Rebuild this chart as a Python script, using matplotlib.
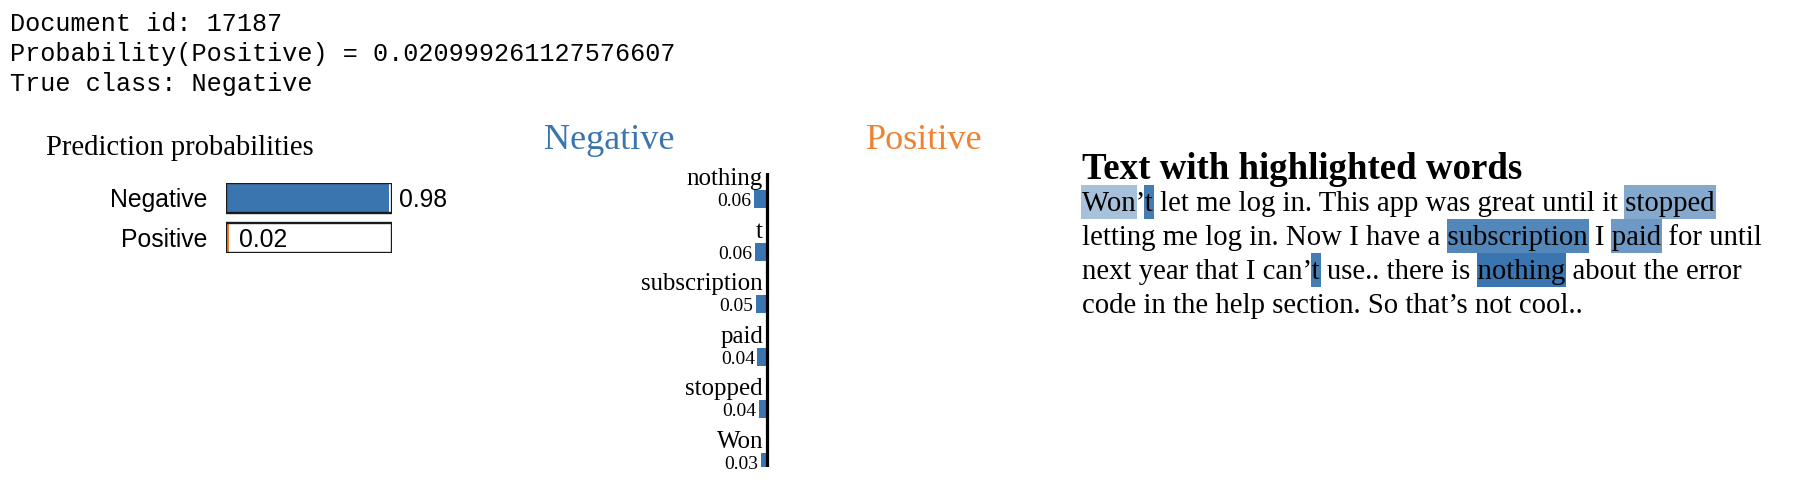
import re
import matplotlib
matplotlib.use("Agg")
import matplotlib.pyplot as plt
from matplotlib.patches import Rectangle
from matplotlib.font_manager import FontProperties

# ---------------- data ----------------
doc_id = 17187
prob_positive = 0.020999261127576607
true_class = "Negative"

class_names = ["Negative", "Positive"]
class_probs = [0.98, 0.02]

feature_words = ["nothing", "t", "subscription", "paid", "stopped", "Won"]
feature_weights = [0.061, 0.058, 0.053, 0.045, 0.038, 0.027]

text_lines = [
    "Won\u2019t let me log in. This app was great until it stopped",
    "letting me log in. Now I have a subscription I paid for until",
    "next year that I can\u2019t use.. there is nothing about the error",
    "code in the help section. So that\u2019s not cool..",
]

# ---------------- style ----------------
BLUE = "#3b75af"
ORANGE = "#ef8131"
W, H = 1812, 492
SERIF = "Liberation Serif"
SANS = "Liberation Sans"
MONO = "Liberation Mono"

fig = plt.figure(figsize=(W / 100, H / 100), dpi=100)


def fx(x):
    return x / W


def fy(y):
    return 1 - y / H


# overlay axes in pixel coordinates (for text panel / header)
ov = fig.add_axes([0, 0, 1, 1])
ov.set_xlim(0, W)
ov.set_ylim(H, 0)
ov.axis("off")

# ---------------- header ----------------
header = [f"Document id: {doc_id}",
          f"Probability(Positive) = {prob_positive}",
          f"True class: {true_class}"]
for i, s in enumerate(header):
    ov.text(10, 31 + 30 * i, s, family=MONO, size=18.05, va="baseline", ha="left")

# ---------------- prediction probabilities ----------------
ov.text(46, 155, "Prediction probabilities", family=SERIF, size=20.6,
        va="baseline", ha="left")

px0, px1, py0, py1 = 226, 392, 183, 253
axp = fig.add_axes([fx(px0), fy(py1), (px1 - px0) / W, (py1 - py0) / H])
ypos = list(range(len(class_names)))
bar_colors = [BLUE, ORANGE]
axp.barh(ypos, class_probs, height=0.76, color=bar_colors, edgecolor="none")
axp.barh(ypos, [1.0] * len(ypos), height=0.76, facecolor="none",
         edgecolor="#1a1a1a", linewidth=1.7)
axp.set_xlim(0, 1)
axp.set_ylim(1.39, -0.38)
axp.axis("off")
for i, (name, p) in enumerate(zip(class_names, class_probs)):
    axp.text(-0.114, i + 0.23, name, ha="right", va="baseline",
             family=SANS, size=17.8, clip_on=False)
    axp.text(p + 0.06, i + 0.23, f"{p:.2f}", ha="left", va="baseline",
             family=SANS, size=17.8, clip_on=False)

# ---------------- feature weights ----------------
axis_x = 767
scale = 215  # px per unit
fy0, fy1 = 173, 467
row_pitch = 52.5
row0 = 199
axf = fig.add_axes([fx(axis_x - scale), fy(fy1), 2 * scale / W, (fy1 - fy0) / H])
axf.set_xlim(-1, 1)
axf.set_ylim((fy1 - row0) / row_pitch, (fy0 - row0) / row_pitch)
rows = list(range(len(feature_words)))
axf.barh(rows, [-w for w in feature_weights], height=18 / row_pitch, color=BLUE)
axf.axvline(0, color="black", lw=2.3)
axf.axis("off")
for i, (word, w) in enumerate(zip(feature_words, feature_weights)):
    axf.text(-4 / scale, i - 14 / row_pitch, word, ha="right", va="baseline",
             family=SERIF, size=17.9, clip_on=False)
    axf.text(-w - 2.5 / scale, i + 7 / row_pitch, f"{w:.2f}", ha="right",
             va="baseline", family=SERIF, size=14, clip_on=False)

ov.text(609, 149, class_names[0], ha="center", va="baseline", color=BLUE,
        family=SERIF, size=26)
ov.text(924, 149, class_names[1], ha="center", va="baseline", color=ORANGE,
        family=SERIF, size=26)

# ---------------- text with highlighted words ----------------
ov.text(1082, 179, "Text with highlighted words", family=SERIF, size=26.6,
        weight="bold", ha="left", va="baseline")

renderer = fig.canvas.get_renderer()
body_fp = FontProperties(family=SERIF, size=20.7)


def tw(s):
    w, h, d = renderer.get_text_width_height_descent(s, body_fp, ismath=False)
    return w


weight_of = dict(zip(feature_words, feature_weights))
wmax = max(feature_weights)
x0 = 1082
base0 = 211
pitch = 34
for k, line in enumerate(text_lines):
    base = base0 + pitch * k
    ov.text(x0, base, line, fontproperties=body_fp, ha="left", va="baseline",
            zorder=3)
    full_w = tw(line)
    for m in re.finditer(r"\w+", line):
        tok = m.group()
        if tok in weight_of:
            xl = x0 + full_w - tw(line[m.start():])
            wd = tw(tok)
            ov.add_patch(Rectangle((xl - 1, base - 26), wd + 2, pitch,
                                   facecolor=BLUE, alpha=weight_of[tok] / wmax,
                                   edgecolor="none", zorder=1))

fig.savefig("out.png", dpi=100)
